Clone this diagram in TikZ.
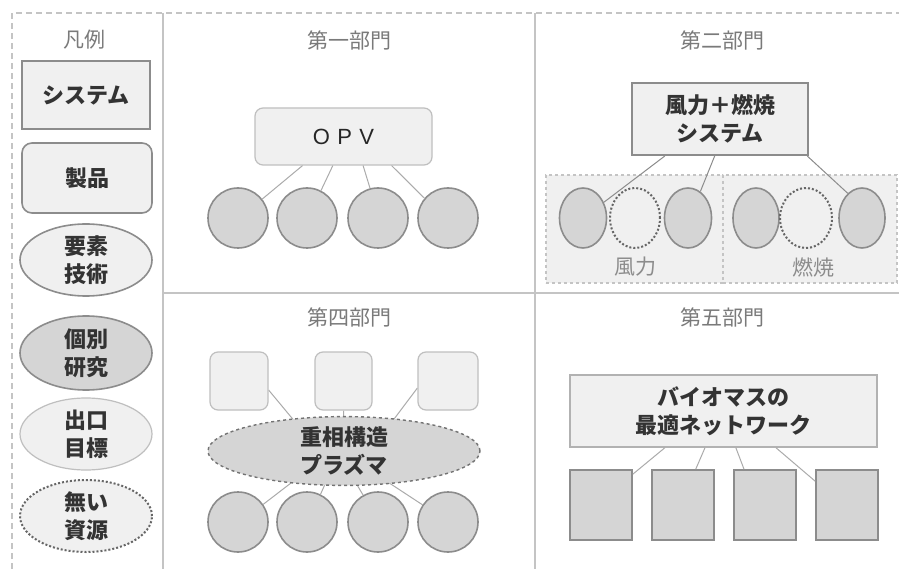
\documentclass[tikz,border=0pt]{standalone}
\usepackage{fontspec}
\setmainfont{Noto Sans CJK JP}
\newfontfamily\latinfont{Liberation Sans}
\usetikzlibrary{shapes.geometric,calc,backgrounds}
\definecolor{lightfill}{HTML}{F0F0F0}
\definecolor{darkfill}{HTML}{D5D5D5}
\definecolor{bordergray}{HTML}{8C8C8C}
\definecolor{linegray}{HTML}{ABABAB}
\definecolor{titlegray}{HTML}{7A7A7A}
\definecolor{framegray}{HTML}{C4C4C4}
\tikzset{
  txt/.style={font=\fontsize{22}{28}\selectfont\bfseries, align=center, text=black!80},
  sysbox/.style={txt, draw=bordergray, line width=2.4pt, fill=lightfill, inner sep=0pt},
  prodbox/.style={txt, draw=bordergray, line width=1.6pt, fill=lightfill, rounded corners=10pt, inner sep=0pt},
  prodlight/.style={draw=black!25, line width=1.2pt, fill=lightfill, rounded corners=8pt, inner sep=0pt},
  elem/.style={txt, ellipse, draw=bordergray, line width=1.6pt, fill=lightfill, inner sep=0pt},
  indiv/.style={txt, ellipse, draw=bordergray, line width=1.6pt, fill=darkfill, inner sep=0pt},
  goal/.style={txt, ellipse, draw=black!25, line width=1.2pt, fill=lightfill, inner sep=0pt},
  nores/.style={txt, ellipse, draw=black!60, line width=2pt, dotted, fill=lightfill, inner sep=0pt},
  circ/.style={circle, draw=bordergray, line width=1.6pt, fill=darkfill, minimum size=60pt, inner sep=0pt},
  sq/.style={draw=bordergray, line width=1.6pt, fill=darkfill, minimum width=62pt, minimum height=70pt, inner sep=0pt},
  title/.style={font=\fontsize{21}{25}\selectfont, text=titlegray},
  conn/.style={draw=linegray, line width=1pt},
  frame/.style={draw=framegray, line width=1.3pt},
}
\begin{document}
\begin{tikzpicture}[x=1pt,y=-1pt]
\useasboundingbox (0,0) rectangle (899,569);
\begin{scope}[on background layer]
\fill[white] (0,0) rectangle (899,569);
\end{scope}
% frame
\draw[frame, dashed, dash pattern=on 6pt off 4pt] (12,569) -- (12,13) -- (899,13);
\draw[frame] (163,13) -- (163,569);
\draw[frame] (535,13) -- (535,569);
\draw[frame] (163,293) -- (899,293);

% legend
\node[title] (lg) at (84,40) {凡例};
\node[sysbox, minimum width=128pt, minimum height=68pt] (lsys) at (86,95) {システム};
\node[prodbox, minimum width=130pt, minimum height=70pt] (lprod) at (87,178) {製品};
\node[elem, minimum width=132pt, minimum height=72pt] (lelem) at (86,260) {要素\\技術};
\node[indiv, minimum width=132pt, minimum height=74pt] (lind) at (86,353) {個別\\研究};
\node[goal, minimum width=132pt, minimum height=72pt] (lgoal) at (86,434) {出口\\目標};
\node[nores, minimum width=132pt, minimum height=72pt] (lnone) at (86,516) {無い\\資源};

% panel 1
\node[title] (t1) at (349,40) {第一部門};
\node[prodlight, minimum width=177pt, minimum height=57pt, font=\latinfont\fontsize{22}{26}\selectfont, text=black!85] (opv) at (343.5,136.5) {O\,\,P\,\,V};
\node[circ] (c1) at (238,218) {};
\node[circ] (c2) at (307,218) {};
\node[circ] (c3) at (378,218) {};
\node[circ] (c4) at (448,218) {};
\draw[conn] ($(opv.south west)!0.27!(opv.south east)$) -- (c1.38);
\draw[conn] ($(opv.south west)!0.44!(opv.south east)$) -- (c2.63);
\draw[conn] ($(opv.south west)!0.61!(opv.south east)$) -- (c3.105);
\draw[conn] ($(opv.south west)!0.77!(opv.south east)$) -- (c4.140);

% panel 2
\node[title] (t2) at (722,40) {第二部門};
\node[draw=framegray, dashed, line width=1.2pt, fill=lightfill, minimum width=177pt, minimum height=108pt, inner sep=0pt] (g1) at (634.5,229) {};
\node[draw=framegray, dashed, line width=1.2pt, fill=lightfill, minimum width=174pt, minimum height=108pt, inner sep=0pt] (g2) at (810,229) {};
\node[title, text=black!45] (g1l) at (635,267) {風力};
\node[title, text=black!45] (g2l) at (813,267) {燃焼};
\node[sysbox, line width=2pt, minimum width=176pt, minimum height=72pt] (wb) at (720,119) {風力＋燃焼\\システム};
\node[ellipse, draw=bordergray, line width=1.6pt, fill=darkfill, minimum width=47pt, minimum height=60pt, inner sep=0pt] (e1) at (583,218) {};
\node[ellipse, draw=black!60, dotted, line width=2pt, minimum width=50pt, minimum height=60pt, inner sep=0pt] (e2) at (635,218) {};
\node[ellipse, draw=bordergray, line width=1.6pt, fill=darkfill, minimum width=47pt, minimum height=60pt, inner sep=0pt] (e3) at (688,218) {};
\node[ellipse, draw=bordergray, line width=1.6pt, fill=darkfill, minimum width=46pt, minimum height=60pt, inner sep=0pt] (e4) at (756,218) {};
\node[ellipse, draw=black!60, dotted, line width=2pt, minimum width=52pt, minimum height=60pt, inner sep=0pt] (e5) at (806,218) {};
\node[ellipse, draw=bordergray, line width=1.6pt, fill=darkfill, minimum width=46pt, minimum height=60pt, inner sep=0pt] (e6) at (862,218) {};
\draw[conn, draw=bordergray] ($(wb.south west)!0.19!(wb.south east)$) -- (e1.37);
\draw[conn, draw=bordergray] ($(wb.south west)!0.47!(wb.south east)$) -- (e3.65);
\draw[conn, draw=bordergray] ($(wb.south west)!0.99!(wb.south east)$) -- (e6.120);

% panel 4
\node[title] (t4) at (349,317) {第四部門};
\node[prodlight, minimum width=58pt, minimum height=58pt] (q1) at (239,381) {};
\node[prodlight, minimum width=57pt, minimum height=58pt] (q2) at (343.5,381) {};
\node[prodlight, minimum width=60pt, minimum height=58pt] (q3) at (448,381) {};
\node[txt, ellipse, draw=black!55, dashed, line width=1.4pt, fill=darkfill, minimum width=272pt, minimum height=57pt, inner sep=0pt] (pl) at (344,451) {重相構造\\プラズマ};
\node[circ] (k1) at (238,522) {};
\node[circ] (k2) at (307,522) {};
\node[circ] (k3) at (378,522) {};
\node[circ] (k4) at (448,522) {};
\begin{scope}[on background layer]
\draw[conn] ([yshift=-9pt]q1.east) -- ($(pl.center)+(-38,-16)$);
\draw[conn] (q2.south) -- ($(pl.center)+(0,-16)$);
\draw[conn] ([yshift=-7pt]q3.west) -- ($(pl.center)+(38,-16)$);
\draw[conn] ($(pl.center)+(-40,22)$) -- (k1.35);
\draw[conn] ($(pl.center)+(-14,22)$) -- (k2.64);
\draw[conn] ($(pl.center)+(6,22)$) -- (k3.119);
\draw[conn] ($(pl.center)+(30,22)$) -- (k4.146);
\end{scope}

% panel 5
\node[title] (t5) at (722,317) {第五部門};
\node[txt, draw=black!30, line width=1.4pt, fill=lightfill, minimum width=307pt, minimum height=72pt, inner sep=0pt] (bm) at (723.5,411) {バイオマスの\\最適ネットワーク};
\node[sq] (s1) at (601,505) {};
\node[sq] (s2) at (683,505) {};
\node[sq] (s3) at (765,505) {};
\node[sq] (s4) at (847,505) {};
\draw[conn] ($(bm.south west)!0.31!(bm.south east)$) -- ([yshift=-5pt]s1.north east);
\draw[conn] ($(bm.south west)!0.44!(bm.south east)$) -- ($(s2.north west)!0.7!(s2.north east)$);
\draw[conn] ($(bm.south west)!0.54!(bm.south east)$) -- ($(s3.north west)!0.17!(s3.north east)$);
\draw[conn] ($(bm.south west)!0.67!(bm.south east)$) -- ([yshift=-12pt]s4.north west);
\end{tikzpicture}
\end{document}
